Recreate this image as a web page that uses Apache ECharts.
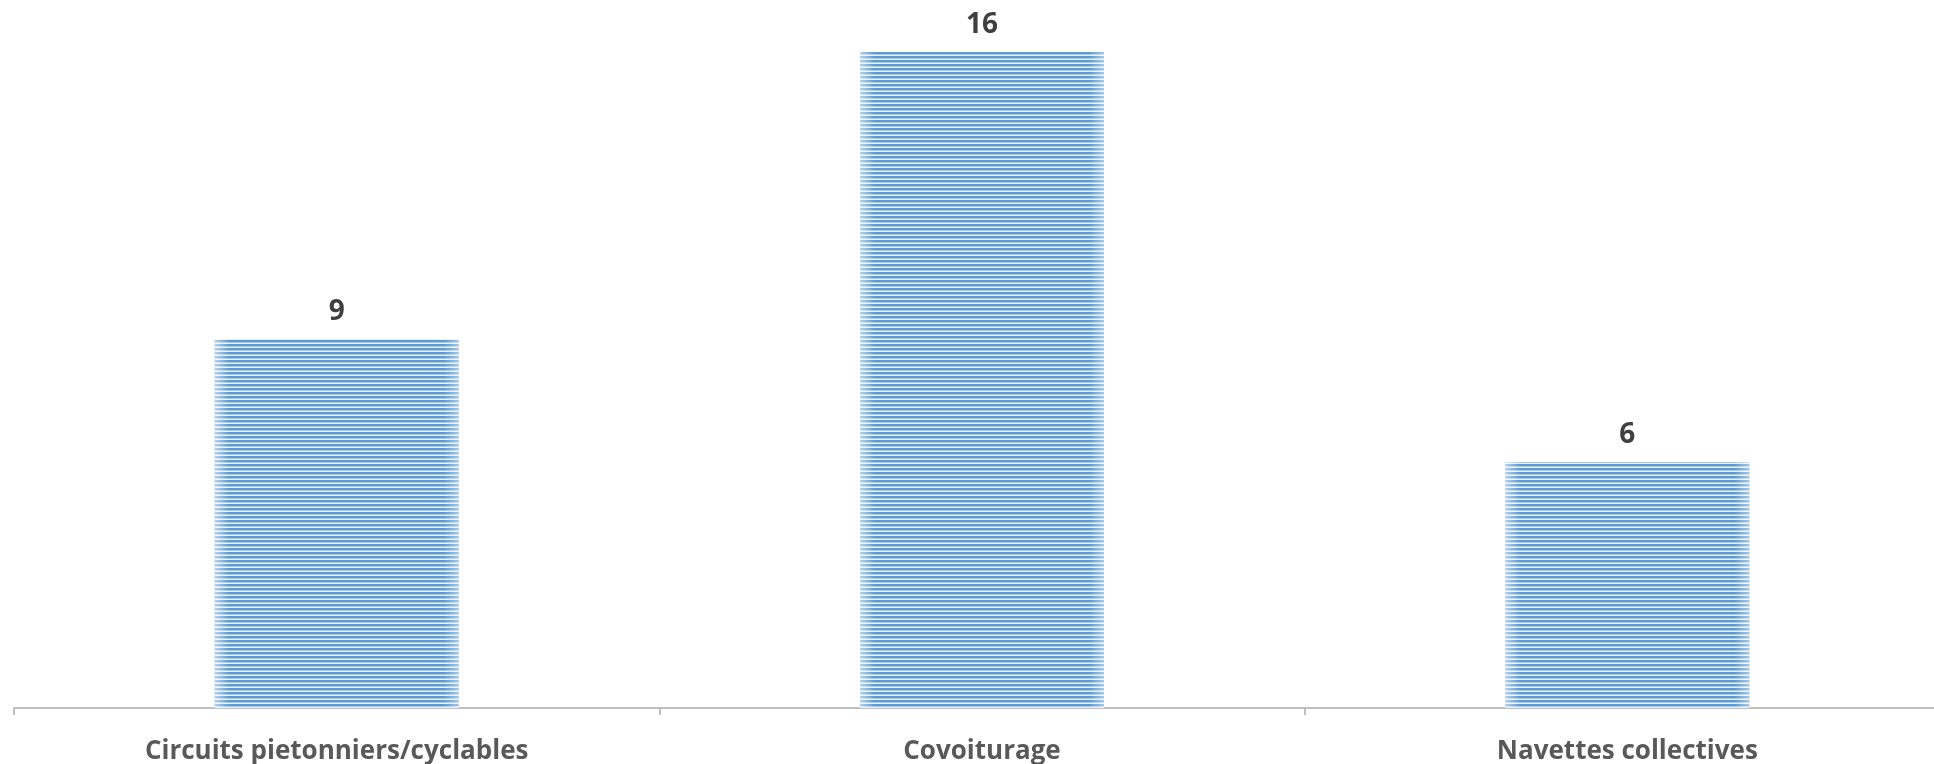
<!DOCTYPE html>
<html>
<head>
<meta charset="utf-8">
<script src="https://cdn.jsdelivr.net/npm/echarts@6/dist/echarts.min.js"></script>
<style>
html,body{margin:0;padding:0;background:#fff;}
#c{width:1934px;height:764px;}
</style>
</head>
<body>
<div id="c"></div>
<script>
const categories = ['Circuits pietonniers/cyclables', 'Covoiturage', 'Navettes collectives'];
const values = [9, 16, 6];

function stripePattern() {
  const cv = document.createElement('canvas');
  cv.width = 8; cv.height = 4;
  const ctx = cv.getContext('2d');
  ctx.fillStyle = '#5B9BD5'; ctx.fillRect(0, 0, 8, 2);
  ctx.fillStyle = '#A9C9EA'; ctx.fillRect(0, 2, 8, 1);
  ctx.fillStyle = '#E6F0FA'; ctx.fillRect(0, 3, 8, 1);
  return cv;
}

const chart = echarts.init(document.getElementById('c'));
chart.setOption({
  animation: false,
  backgroundColor: '#ffffff',
  grid: { left: 14, top: 11, bottom: 56, width: 1936, containLabel: false, outerBoundsMode: 'none' },
  xAxis: {
    type: 'category',
    data: categories,
    axisLine: { lineStyle: { color: '#BFBFBF', width: 2 } },
    axisTick: { show: true, length: 7, lineStyle: { color: '#BFBFBF', width: 2 } },
    axisLabel: {
      margin: 31,
      color: '#595959',
      fontFamily: 'Open Sans',
      fontWeight: 'bold',
      fontSize: 26
    }
  },
  yAxis: {
    type: 'value', min: 0, max: 17,
    show: false, splitLine: { show: false }
  },
  series: [
    {
      type: 'bar',
      data: values,
      barWidth: 244,
      itemStyle: { color: { image: stripePattern(), repeat: 'repeat' } },
      label: {
        show: true, position: 'top', distance: 13,
        color: '#404040', fontFamily: 'Open Sans', fontWeight: 'bold', fontSize: 28
      }
    },
    {
      type: 'bar',
      data: values,
      barWidth: 244,
      barGap: '-100%',
      silent: true,
      itemStyle: {
        color: {
          type: 'linear', x: 0, y: 0, x2: 1, y2: 0,
          colorStops: [
            { offset: 0, color: 'rgba(255,255,255,0.55)' },
            { offset: 0.06, color: 'rgba(255,255,255,0)' },
            { offset: 0.94, color: 'rgba(255,255,255,0)' },
            { offset: 1, color: 'rgba(255,255,255,0.45)' }
          ]
        }
      }
    }
  ]
});
</script>
</body>
</html>
